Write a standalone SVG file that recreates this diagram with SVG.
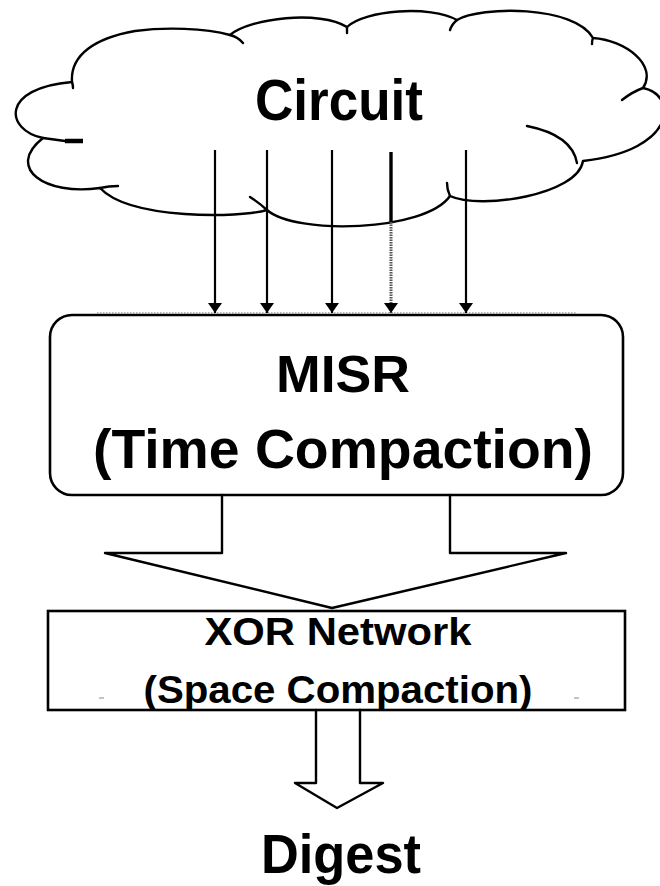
<svg xmlns="http://www.w3.org/2000/svg" width="660" height="886" viewBox="0 0 660 886">
  <defs>
    <marker id="tip" viewBox="0 0 10 14" refX="10" refY="7" markerWidth="10" markerHeight="14" markerUnits="userSpaceOnUse" orient="auto">
      <path d="M0,0 L10,7 L0,14 Z" fill="#000"/>
    </marker>
    <style>
      .ln { fill: none; stroke: #000; stroke-width: 2.4; stroke-linejoin: round; stroke-linecap: round; }
      .wire { fill: none; stroke: #000; stroke-width: 2.2; }
      .box { fill: #fff; stroke: #000; stroke-width: 2.6; }
      .lbl { font-family: "Liberation Sans", Arial, sans-serif; font-weight: bold; fill: #000; text-anchor: middle; }
      .haze { fill: none; stroke: #9a9a9a; stroke-width: 1.5; stroke-dasharray: 1.5 1.5; }
    </style>
  </defs>

  <rect width="660" height="886" fill="#fff"/>

  <!-- cloud: Circuit -->
  <g id="circuit">
    <path class="ln" d="M72,82
      C70,55 95,38 135,31
      C165,27 205,28 230,35
      C250,18 320,10 347,27
      C365,10 430,5 457,20
      C480,6 575,5 593,38
      C625,40 658,65 643,88
      C678,95 678,150 583,161
      C578,195 480,210 450,196
      C425,232 295,235 267,210
      C240,218 130,220 100,188
      C45,196 5,168 43,138
      C5,130 0,88 72,82 Z"/>
    <!-- inner lobe arcs -->
    <path class="ln" d="M72,82 Q73,85 73,88"/>
    <path class="ln" d="M230,35 Q238,37 243,43"/>
    <path class="ln" d="M347,27 Q347,30 347,33"/>
    <path class="ln" d="M457,20 Q452,24 450,30"/>
    <path class="ln" d="M593,38 Q592,40 592,44"/>
    <path class="ln" d="M643,88 Q632,92 622,100"/>
    <path class="ln" d="M527,126 Q572,135 577,163"/>
    <path class="ln" d="M450,196 Q447,190 447,183"/>
    <path class="ln" d="M267,210 Q258,202 250,197"/>
    <path class="ln" d="M100,188 Q109,186 118,186"/>
    <path class="ln" d="M43,138 L65,141"/>
    <path d="M65,141 L83,141" stroke="#000" stroke-width="4.5" fill="none"/>
    <text class="lbl" x="339" y="120" font-size="58" textLength="168" lengthAdjust="spacingAndGlyphs">Circuit</text>
  </g>

  <!-- MISR block -->
  <g id="misr">
    <rect class="box" x="50" y="315" width="573" height="180" rx="22" ry="22"/>
    <line class="haze" x1="97" y1="313" x2="577" y2="313"/>
    <text class="lbl" x="343" y="392" font-size="52" textLength="134" lengthAdjust="spacingAndGlyphs">MISR</text>
    <text class="lbl" x="343" y="468" font-size="56" textLength="500" lengthAdjust="spacingAndGlyphs">(Time Compaction)</text>
  </g>

  <!-- XOR network block -->
  <g id="xor">
    <rect class="box" x="48" y="611" width="577" height="99"/>
    <line x1="99" y1="698" x2="104" y2="698" stroke="#888" stroke-width="1"/>
    <line x1="574" y1="698" x2="579" y2="698" stroke="#888" stroke-width="1"/>
    <text class="lbl" x="338" y="645" font-size="39" textLength="267" lengthAdjust="spacingAndGlyphs">XOR Network</text>
    <text class="lbl" x="338" y="703" font-size="38" textLength="389" lengthAdjust="spacingAndGlyphs">(Space Compaction)</text>
  </g>

  <!-- output label -->
  <g id="digest">
    <text class="lbl" x="341" y="873" font-size="55" textLength="160" lengthAdjust="spacingAndGlyphs">Digest</text>
  </g>

  <!-- connectors -->
  <g id="connectors">
    <line class="wire" x1="215" y1="150" x2="215" y2="313" marker-end="url(#tip)"/>
    <line class="wire" x1="267" y1="150" x2="267" y2="313" marker-end="url(#tip)"/>
    <line class="wire" x1="332" y1="150" x2="332" y2="313" marker-end="url(#tip)"/>
    <line x1="391" y1="152" x2="391" y2="222" stroke="#000" stroke-width="3.4"/>
    <line x1="391" y1="222" x2="391" y2="313" stroke="#555" stroke-width="3" stroke-dasharray="1.5 1" marker-end="url(#tip)"/>
    <line class="wire" x1="466" y1="150" x2="466" y2="313" marker-end="url(#tip)"/>

    <!-- block arrow MISR to XOR -->
    <path class="ln" d="M222,495 L222,553 L105,553 L332,608 L566,553 L450,553 L450,495" fill="#fff"/>

    <!-- block arrow XOR to Digest -->
    <path class="ln" d="M316,710 L316,783 L295,783 L337,808 L383,783 L360,783 L360,710" fill="#fff"/>
  </g>
</svg>
